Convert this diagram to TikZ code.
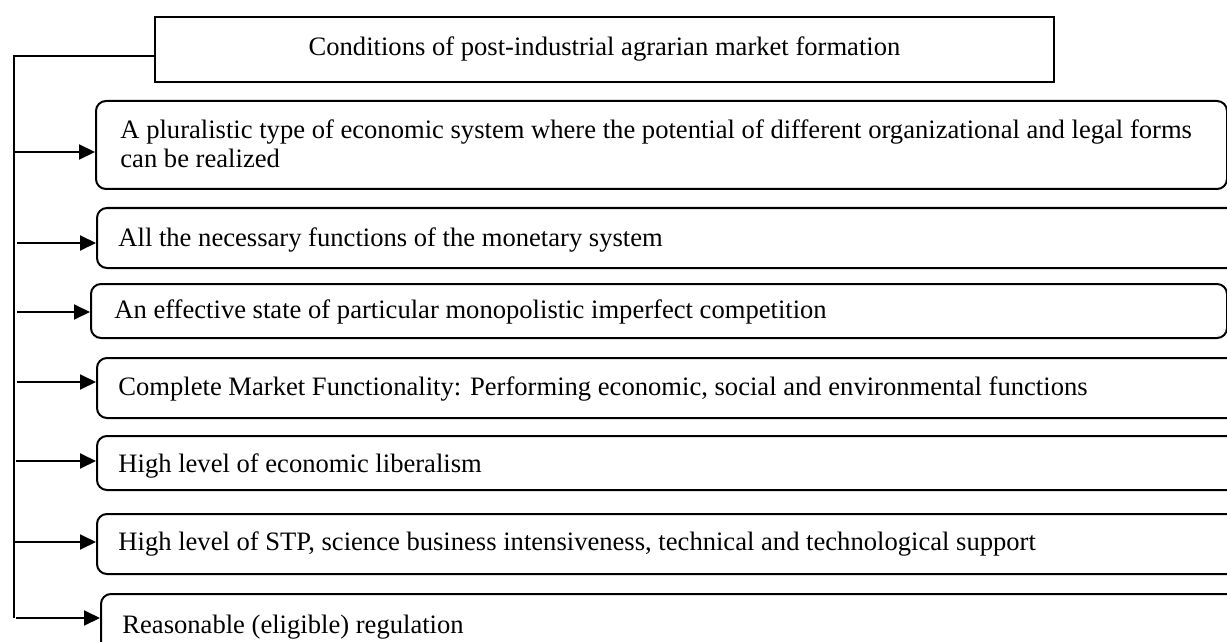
\documentclass[tikz,border=0pt]{standalone}
\usepackage{fontspec}
\setmainfont{Liberation Serif}
\usetikzlibrary{arrows.meta}
\begin{document}
\begin{tikzpicture}[x=0.5pt,y=-0.5pt,
  box/.style={draw, line width=1pt, rounded corners=5pt, anchor=north west, inner sep=0pt},
  tbox/.style={draw, line width=1pt, anchor=north west, inner sep=0pt, font=\fontsize{13.3pt}{16pt}\selectfont},
  lbl/.style={anchor=base west, inner sep=0pt, font=\fontsize{13.3pt}{16pt}\selectfont},
  arr/.style={line width=1pt, -{Triangle[length=8pt,width=7.5pt]}},
  trunk/.style={line width=1pt}]
\useasboundingbox (0,0) rectangle (1227,642);
\clip (0,0) rectangle (1227,642);
% title
\node[tbox, minimum width=449.5pt, minimum height=32.5pt] (title) at (154,16) {Conditions of post-industrial agrarian market formation};
% boxes
\node[box, minimum width=565.5pt, minimum height=44pt] (b1) at (95,100) {};
\node[box, minimum width=577pt, minimum height=30pt] (b2) at (96,207) {};
\node[box, minimum width=568pt, minimum height=27pt] (b3) at (90,283) {};
\node[box, minimum width=577pt, minimum height=30pt] (b4) at (96,357) {};
\node[box, minimum width=577pt, minimum height=27pt] (b5) at (96,435) {};
\node[box, minimum width=577pt, minimum height=30pt] (b6) at (96,513) {};
\node[box, minimum width=575pt, minimum height=40pt] (b7) at (100,593) {};
% labels
\node[lbl] (t1) at (120,139) {A pluralistic type of economic system where the potential of different organizational and legal forms};
\node[lbl] (t1b) at (120,168) {can be realized};
\node[lbl] (t2) at (118,247) {All the necessary functions of the monetary system};
\node[lbl] (t3) at (114,318) {An effective state of particular monopolistic imperfect competition};
\node[lbl] (t4) at (118,395) {Complete Market Functionality: Performing economic, social and environmental functions};
\node[lbl] (t5) at (118,472) {High level of economic liberalism};
\node[lbl] (t6) at (118,550) {High level of STP, science business intensiveness, technical and technological support};
\node[lbl] (t7) at (122,633) {Reasonable (eligible) regulation};
% trunk
\coordinate (tj) at (14,56);
\coordinate (tb) at (14,618);
\draw[trunk] (title.west |- tj) -- (tj) -- (tb);
% arrows
\coordinate (a1) at (14,152);
\coordinate (a2) at (17,243);
\coordinate (a3) at (17,312);
\coordinate (a4) at (17,382);
\coordinate (a5) at (16,461);
\coordinate (a6) at (14,542);
\coordinate (a7) at (16,618);
\draw[arr] (a1) -- (b1.west |- a1);
\draw[arr] (a2) -- (b2.west |- a2);
\draw[arr] (a3) -- (b3.west |- a3);
\draw[arr] (a4) -- (b4.west |- a4);
\draw[arr] (a5) -- (b5.west |- a5);
\draw[arr] (a6) -- (b6.west |- a6);
\draw[arr] (a7) -- (b7.west |- a7);
\end{tikzpicture}
\end{document}
